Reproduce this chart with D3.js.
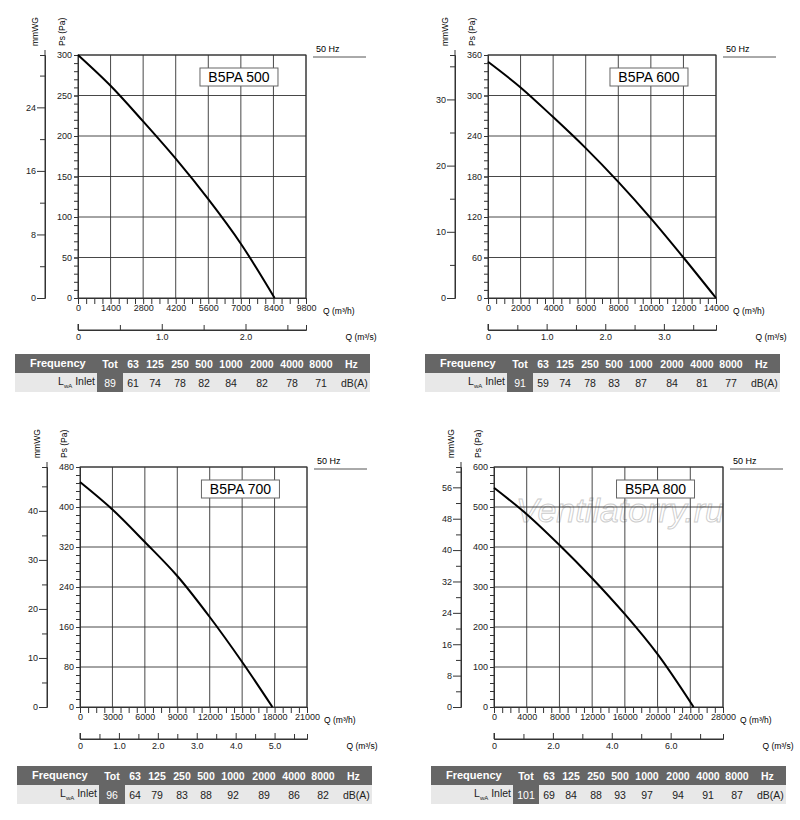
<!DOCTYPE html><html><head><meta charset="utf-8">
<script src="https://cdn.jsdelivr.net/npm/d3@7"></script>
<style>body{margin:0;background:#fff}text{font-family:Arial,"Liberation Sans",sans-serif}</style></head><body>
<svg id="c" width="800" height="820"></svg>
<script>
const models = ["B5PA 500","B5PA 600","B5PA 700","B5PA 800"];
const qFlow = [
 [0,1400,2800,4200,5600,7000,8450],
 [0,2000,4000,6000,8000,10000,12000,14000],
 [0,3000,6000,9000,12000,15000,17800],
 [0,4000,8000,12000,16000,20000,24400]];
const psPa = [
 [300,262,218,172,122,67,0],
 [350,312,268,222,172,118,60,0],
 [450,395,330,262,180,90,0],
 [548,482,405,322,232,132,0]];
const paMax=[300,360,480,600], paStep=[50,60,80,100];
const mmStep=[8,10,10,8];
const qMax=[9800,14000,21000,28000], qStep=[1400,2000,3000,4000];
const sStep=[1.0,1.0,1.0,2.0];
const freqHead=["Tot","63","125","250","500","1000","2000","4000","8000"];
const lwa=[[89,61,74,78,82,84,82,78,71],[91,59,74,78,83,87,84,81,77],[96,64,79,83,88,92,89,86,82],[101,69,84,88,93,97,94,91,87]];
const layout=[{x:78,y:55,h:243,w:228,tb:56},{x:488,y:55,h:243,w:228,tb:56},{x:80,y:467,h:240,w:227,tb:59},{x:494,y:467,h:240,w:229,tb:59}];
const svg=d3.select("#c");
models.forEach((m,i)=>{
 const L=layout[i], g=svg.append("g").attr("transform",`translate(${L.x},${L.y})`);
 const x=d3.scaleLinear().domain([0,qMax[i]]).range([0,L.w]);
 const y=d3.scaleLinear().domain([0,paMax[i]]).range([L.h,0]);
 const mmMax=paMax[i]/9.80665;
 const ym=d3.scaleLinear().domain([0,mmMax]).range([L.h,0]);
 const xs=d3.scaleLinear().domain([0,qMax[i]/3600]).range([0,L.w]);
 if(i===3) g.append("text").attr("x",L.w*0.55).attr("y",55).attr("text-anchor","middle").attr("font-size",34).attr("font-style","italic").attr("fill","none").attr("stroke","#ccc").attr("stroke-width",0.9).text("Ventilatorry.ru");
 g.selectAll(".vg").data(d3.range(qStep[i],qMax[i]+1,qStep[i])).join("line").attr("x1",d=>x(d)).attr("x2",d=>x(d)).attr("y1",0).attr("y2",L.h).attr("stroke","#333").attr("stroke-width",0.9);
 g.selectAll(".hg").data(d3.range(paStep[i],paMax[i]+1,paStep[i])).join("line").attr("x1",0).attr("x2",L.w).attr("y1",d=>y(d)).attr("y2",d=>y(d)).attr("stroke","#333").attr("stroke-width",0.9);
 g.append("g").call(d3.axisLeft(y).tickValues(d3.range(0,paMax[i]+1,paStep[i])).tickSize(4).tickPadding(2));
 g.append("g").call(d3.axisLeft(y).tickValues(d3.range(0,paMax[i]+1,paStep[i]/5)).tickSize(4).tickFormat(""));
 const am=g.append("g").attr("transform","translate(-33,0)").call(d3.axisLeft(ym).tickValues(d3.range(0,mmMax,mmStep[i])).tickSize(8).tickPadding(1));
 g.append("g").attr("transform","translate(-33,0)").call(d3.axisLeft(ym).tickValues(d3.range(mmStep[i]/2,mmMax,mmStep[i])).tickSize(5).tickFormat(""));
 am.select(".domain").attr("d",`M0,${L.h}V-5`);
 g.append("g").attr("transform",`translate(0,${L.h})`).call(d3.axisBottom(x).tickValues(d3.range(0,qMax[i]+1,qStep[i])).tickSize(0).tickPadding(7).tickFormat(d3.format("d")));
 g.append("g").attr("transform",`translate(0,${L.h})`).call(d3.axisTop(x).tickValues(d3.range(0,qMax[i]+1,qStep[i]/4)).tickSize(-6).tickFormat(""));
 const as=g.append("g").attr("transform",`translate(0,${L.h+32})`).call(d3.axisBottom(xs).tickValues(d3.range(0,qMax[i]/3600,sStep[i])).tickSize(-6).tickPadding(4).tickFormat(d=>d===0?"0":d3.format(".1f")(d)));
 g.append("g").attr("transform",`translate(0,${L.h+32})`).call(d3.axisBottom(xs).tickValues(d3.range(sStep[i]/2,qMax[i]/3600,sStep[i])).tickSize(-5).tickFormat(""));
 as.select(".domain").attr("d",`M0,-6V0H${L.w}`);
 g.selectAll(".domain").attr("stroke","#333");
 g.selectAll(".tick line").attr("stroke","#333");
 g.selectAll(".tick text").attr("font-size",9).attr("fill","#222");
 g.append("rect").attr("width",L.w).attr("height",L.h).attr("fill","none").attr("stroke","#333");
 g.append("text").attr("x",L.w+17).attr("y",L.h+16).attr("font-size",8.5).text("Q (m³/h)");
 g.append("text").attr("x",L.w+55).attr("y",L.h+42).attr("font-size",8.5).attr("text-anchor","middle").text("Q (m³/s)");
 g.append("text").attr("transform",`translate(-13,-9) rotate(-90)`).attr("font-size",8.5).text("Ps (Pa)");
 g.append("text").attr("transform",`translate(-40,-9) rotate(-90)`).attr("font-size",8.5).text("mmWG");
 g.append("text").attr("x",L.w+10).attr("y",-3).attr("font-size",9).text("50 Hz");
 g.append("line").attr("x1",L.w+7).attr("x2",L.w+60).attr("y1",2).attr("y2",2).attr("stroke","#555");
 g.append("rect").attr("x",L.w*0.535).attr("y",13).attr("width",78).attr("height",18).attr("fill","#fff").attr("stroke","#666");
 g.append("text").attr("x",L.w*0.535+39).attr("y",27).attr("text-anchor","middle").attr("font-size",14).text(m);
 g.append("path").datum(qFlow[i].map((q,k)=>[q,psPa[i][k]])).attr("d",d3.line().x(d=>x(d[0])).y(d=>y(d[1])).curve(d3.curveCatmullRom)).attr("fill","none").attr("stroke","#000").attr("stroke-width",2);
 const t=g.append("g").attr("transform",`translate(-63,${L.h+L.tb})`);
 t.append("rect").attr("width",355).attr("height",19).attr("fill","#666");
 t.append("rect").attr("y",19).attr("width",355).attr("height",19).attr("fill","#e8e8e8");
 t.append("rect").attr("x",82).attr("y",19).attr("width",26).attr("height",19).attr("fill","#666");
 t.append("text").attr("x",15).attr("y",13).attr("fill","#fff").attr("font-weight","bold").attr("font-size",11).text("Frequency");
 const cx=[95,118,140,165,189,216,247,277,306];
 freqHead.forEach((f,k)=>t.append("text").attr("x",cx[k]).attr("y",14).attr("text-anchor","middle").attr("fill","#fff").attr("font-weight","bold").attr("font-size",10.5).text(f));
 t.append("text").attr("x",330).attr("y",14).attr("fill","#fff").attr("font-weight","bold").attr("font-size",10.5).text("Hz");
 lwa[i].forEach((v,k)=>t.append("text").attr("x",cx[k]).attr("y",33).attr("text-anchor","middle").attr("fill",k===0?"#fff":"#222").attr("font-size",10.5).text(v));
 t.append("text").attr("x",326).attr("y",33).attr("fill","#222").attr("font-size",10.5).text("dB(A)");
 const lt=t.append("text").attr("x",80).attr("y",31).attr("text-anchor","end").attr("font-size",10.5).attr("fill","#222");
 lt.append("tspan").text("L");lt.append("tspan").attr("font-size",6).attr("dy",3).text("wA");lt.append("tspan").attr("dy",-3).text(" Inlet");
});
</script></body></html>
